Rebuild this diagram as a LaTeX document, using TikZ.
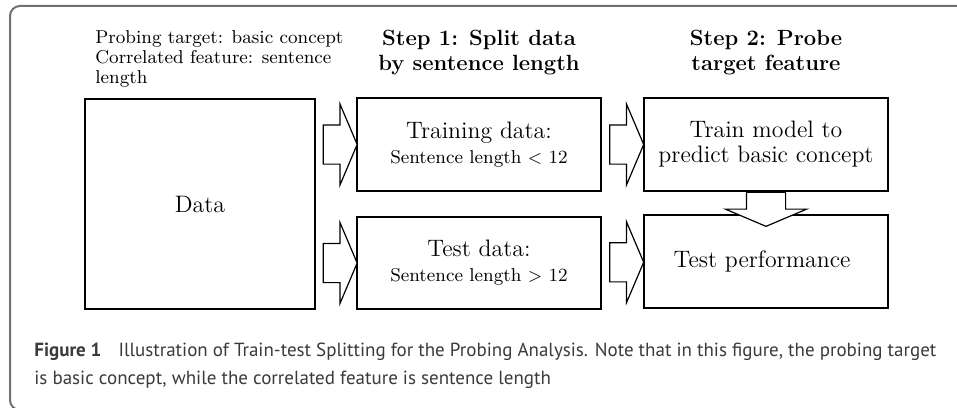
\documentclass[tikz,border=0pt]{standalone}
\usepackage{fontspec}
\newfontfamily\capfont{PT Sans}
\usetikzlibrary{shapes.arrows, calc}
\definecolor{framegray}{RGB}{112, 112, 112}
\definecolor{captext}{RGB}{58, 58, 58}
\tikzset{
    box/.style={
        rectangle, draw, line width=0.75pt, align=center,
        font=\fontsize{11.9}{12.5}\selectfont
    },
    title/.style={align=center, font=\fontsize{11}{12.5}\selectfont\bfseries},
    note/.style={align=left, inner sep=0pt, font=\fontsize{9.3}{10}\selectfont},
    fatarrow/.style={
        single arrow, draw, fill=white, line width=0.6pt,
        inner xsep=0pt, inner ysep=9.5pt, minimum height=17pt,
        single arrow head extend=10.5pt, single arrow tip angle=134,
        single arrow head indent=0pt
    },
}
\newcommand{\cond}[1]{{\fontsize{9.3}{10}\selectfont #1}}

\begin{document}
\begin{tikzpicture}[x=25pt, y=25pt]
    \useasboundingbox (0, 0) rectangle (19.14, -8.14);
    \clip (0, 0) rectangle (19.14, -8.14);
    \draw[framegray, line width=1pt, rounded corners=5pt] (0.2, -0.12) rectangle (20, -8.2);

    \node[note, anchor=north west] (target) at (1.9, -0.6) {
        Probing target: basic concept\\
        Correlated feature: sentence\\
        length
    };
    \node[title] (step1) at (9.58, -1.05) {Step 1: Split data\\by sentence length};
    \node[title] (step2) at (15.32, -1.05) {Step 2: Probe\\target feature};

    % input data and the split
    \node[box, minimum width=115pt, minimum height=105pt] (data) at (4.0, -4.08) {Data};
    \node[box, minimum width=122pt, minimum height=46.5pt] (traindata) at (9.58, -2.89) {
        Training data:\\\cond{Sentence length $<$ 12}
    };
    \node[box, minimum width=122pt, minimum height=46pt] (testdata) at (9.58, -5.26) {
        Test data:\\\cond{Sentence length $>$ 12}
    };

    % probing
    \node[box, minimum width=122pt, minimum height=46.5pt] (model) at (15.32, -2.89) {
        Train model to\\predict basic concept
    };
    \node[box, minimum width=122pt, minimum height=46.5pt] (perf) at (15.32, -5.23) {
        Test performance
    };

    \node[fatarrow] (a1) at ($(data.east |- traindata.west)!0.5!(traindata.west)$) {};
    \node[fatarrow] (a2) at ($(data.east |- testdata.west)!0.5!(testdata.west)$) {};
    \node[fatarrow] (a3) at ($(traindata.east)!0.5!(model.west)$) {};
    \node[fatarrow] (a4) at ($(testdata.east)!0.5!(perf.west)$) {};
    \node[fatarrow, rotate=-90, anchor=tail] (a5) at (model.south) {};

    \node[anchor=north west, align=left, inner sep=0pt, text=captext,
          font=\capfont\fontsize{9.5}{14}\selectfont] (caption) at (0.68, -6.85) {
        \textbf{Figure 1}\hspace{6pt} Illustration of Train-test Splitting for the Probing Analysis. Note that in this figure, the probing target\\
        is basic concept, while the correlated feature is sentence length
    };
\end{tikzpicture}
\end{document}
